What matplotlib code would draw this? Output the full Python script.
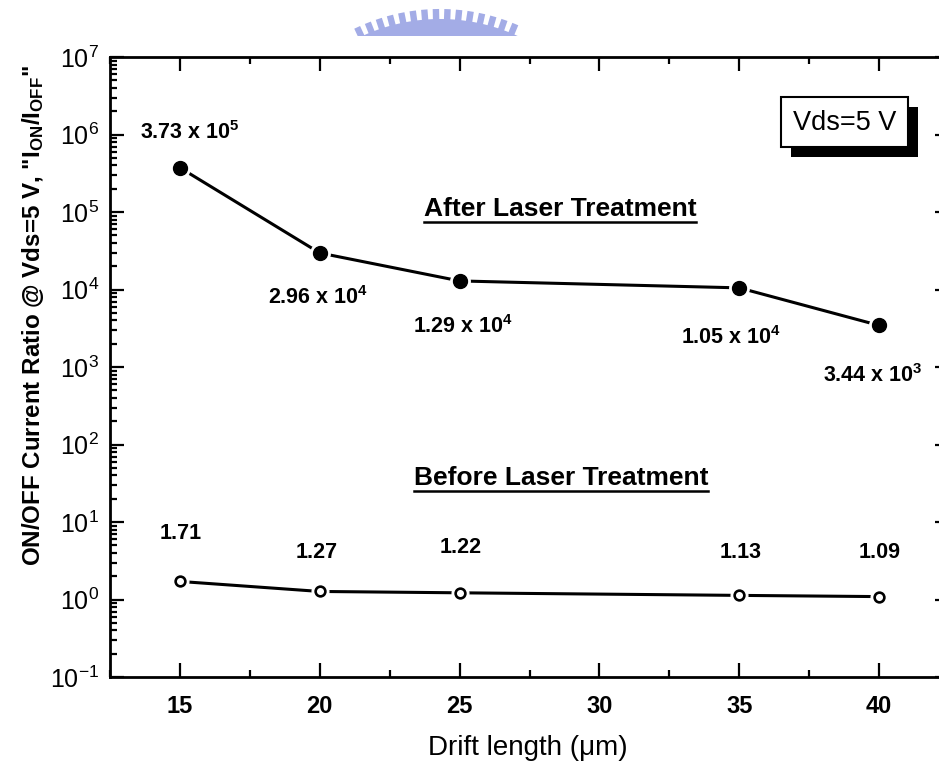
import numpy as np
import matplotlib
matplotlib.use("Agg")
import matplotlib.pyplot as plt
from matplotlib.ticker import MultipleLocator, LogLocator, FixedLocator, FuncFormatter, NullFormatter
from matplotlib.patches import Rectangle, Polygon
from matplotlib.lines import Line2D

# ---------------- data ----------------
drift_length = [15, 20, 25, 35, 40]
after_laser = [3.73e5, 2.96e4, 1.29e4, 1.05e4, 3.44e3]
before_laser = [1.71, 1.27, 1.22, 1.13, 1.09]
x_ticks = [15, 20, 25, 30, 35, 40]
y_exponents = [-1, 0, 1, 2, 3, 4, 5, 6, 7]

plt.rcParams['font.family'] = ['Liberation Sans', 'DejaVu Sans']
plt.rcParams['mathtext.fontset'] = 'custom'
plt.rcParams['mathtext.rm'] = 'Liberation Sans'
plt.rcParams['mathtext.it'] = 'Liberation Sans'
plt.rcParams['mathtext.bf'] = 'Liberation Sans:bold'
plt.rcParams['mathtext.default'] = 'bf'
plt.rcParams['axes.unicode_minus'] = False

W, H = 939, 764
fig = plt.figure(figsize=(W / 100, H / 100), dpi=100)

def fx(px):
    return px / W

def fy(py):
    return (H - py) / H

# watermark (decorative, top)
wm = fig.add_axes([0, 0, 1, 1], zorder=-5)
wm.set_xlim(0, W)
wm.set_ylim(H, 0)
wm.axis('off')
cx, cy, R = 440, 205, 196
for ang in np.arange(-25, 25.1, 3.4):
    a = np.deg2rad(ang)
    ux, uy = np.sin(a), -np.cos(a)
    px, py = np.cos(a), np.sin(a)
    r0, r1, w = R - 16, R, 3.2
    pts = [(cx + ux * r0 - px * w, cy + uy * r0 - py * w),
           (cx + ux * r1 - px * w, cy + uy * r1 - py * w),
           (cx + ux * r1 + px * w, cy + uy * r1 + py * w),
           (cx + ux * r0 + px * w, cy + uy * r0 + py * w)]
    wm.add_patch(Polygon(pts, closed=True, color='#a3ace6', lw=0))
th = np.deg2rad(np.linspace(-28, 28, 100))
outer = [(cx + np.sin(t) * (R - 10), cy - np.cos(t) * (R - 10)) for t in th]
inner = [(cx + np.sin(t) * (R - 30), cy - np.cos(t) * (R - 30)) for t in th[::-1]]
wm.add_patch(Polygon(outer + inner, closed=True, color='#a3ace6', lw=0))
wm.add_patch(Rectangle((0, 36), W, 100, color='white', lw=0, zorder=3))

# main axes
x0, x1, y0, y1 = 110, 949, 57, 677
ax = fig.add_axes([fx(x0), fy(y1), fx(x1) - fx(x0), fy(y0) - fy(y1)])
ax.set_facecolor('none')
ax.set_yscale('log')
ax.set_xlim(12.5, 42.5)
ax.set_ylim(10.0 ** y_exponents[0], 10.0 ** y_exponents[-1])

# lines with marker gaps
ax.plot(drift_length, after_laser, color='black', lw=2.2, zorder=2)
ax.plot(drift_length, before_laser, color='black', lw=2.2, zorder=2)
ax.plot(drift_length, after_laser, 'o', ms=14, color='white', mec='white', zorder=3)
ax.plot(drift_length, before_laser, 'o', ms=12, color='white', mec='white', zorder=3)
ax.plot(drift_length, after_laser, 'o', ms=10, color='black', mec='black', zorder=4)
ax.plot(drift_length, before_laser, 'o', ms=7, mfc='white', mec='black', mew=1.9, zorder=4)

# ticks
ax.xaxis.set_major_locator(FixedLocator(x_ticks))
ax.xaxis.set_minor_locator(MultipleLocator(2.5))
ax.yaxis.set_major_locator(FixedLocator([10.0 ** e for e in y_exponents]))
ax.yaxis.set_minor_locator(LogLocator(base=10, subs=np.arange(2, 10), numticks=30))
ax.yaxis.set_minor_formatter(NullFormatter())
ax.yaxis.set_major_formatter(FuncFormatter(
    lambda v, p: r'$\mathregular{10^{\mathregular{%d}}}$' % round(np.log10(v))))
ax.tick_params(which='both', direction='in', top=True, right=True, width=1.6)
ax.tick_params(which='major', length=10)
ax.tick_params(which='minor', length=5)
ax.tick_params(axis='x', labelsize=17, pad=13)
ax.tick_params(axis='y', labelsize=18, pad=8)
for lab in ax.get_xticklabels():
    lab.set_fontweight('bold')
for s in ax.spines.values():
    s.set_linewidth(2.0)

# value labels
after_offsets = [(10, 35), (-2, -45), (3, -46), (-8, -50), (-6, -50)]
before_offsets = [(1, 48), (-3, 39), (1, 45), (1, 43), (1, 44)]
for xv, yv, off in zip(drift_length, after_laser, after_offsets):
    e = int(np.floor(np.log10(yv)))
    m = yv / 10 ** e
    ax.annotate(r'%.2f x 10$^{\mathregular{%d}}$' % (m, e), (xv, yv), xytext=off,
                textcoords='offset pixels', ha='center', va='center',
                fontsize=15.5, fontweight='bold')
for xv, yv, off in zip(drift_length, before_laser, before_offsets):
    ax.annotate('%.2f' % yv, (xv, yv), xytext=off, textcoords='offset pixels',
                ha='center', va='center', fontsize=15.5, fontweight='bold')

# section titles
t_after = fig.text(fx(560), fy(209), 'After Laser Treatment', ha='center', va='center',
                   fontsize=19, fontweight='bold')
t_before = fig.text(fx(561), fy(478), 'Before Laser Treatment', ha='center', va='center',
                    fontsize=19, fontweight='bold')

# Vds box with shadow
bx0, by0, bx1, by1, sh = 781, 97, 908, 147, 10
fig.add_artist(Rectangle((fx(bx0 + sh), fy(by1 + sh)), fx(bx1 - bx0), fy(by0) - fy(by1),
                         transform=fig.transFigure, color='black', lw=0, zorder=5))
fig.add_artist(Rectangle((fx(bx0), fy(by1)), fx(bx1 - bx0), fy(by0) - fy(by1),
                         transform=fig.transFigure, facecolor='white', edgecolor='black',
                         lw=1.5, zorder=6))
fig.text(fx((bx0 + bx1) / 2), fy((by0 + by1) / 2 + 1), 'Vds=5 V', ha='center', va='center',
         fontsize=19.5, zorder=7)

# axis labels
fig.text(fx(528), fy(748), 'Drift length (\u03bcm)', ha='center', va='center', fontsize=20)
fig.text(fx(33), fy(316), r'ON/OFF Current Ratio @ Vds=5 V, "I$_{\mathregular{ON}}$/I$_{\mathregular{OFF}}$"',
         ha='center', va='center', rotation=90, fontsize=17.4, fontweight='bold')

# underlines
fig.canvas.draw()
r = fig.canvas.get_renderer()
for t in (t_after, t_before):
    bb = t.get_window_extent(r)
    yline = bb.y0 - 1
    fig.add_artist(Line2D([bb.x0 / W, bb.x1 / W], [yline / H, yline / H],
                          transform=fig.transFigure, color='black', lw=1.8))

fig.savefig('out.png', dpi=100)
